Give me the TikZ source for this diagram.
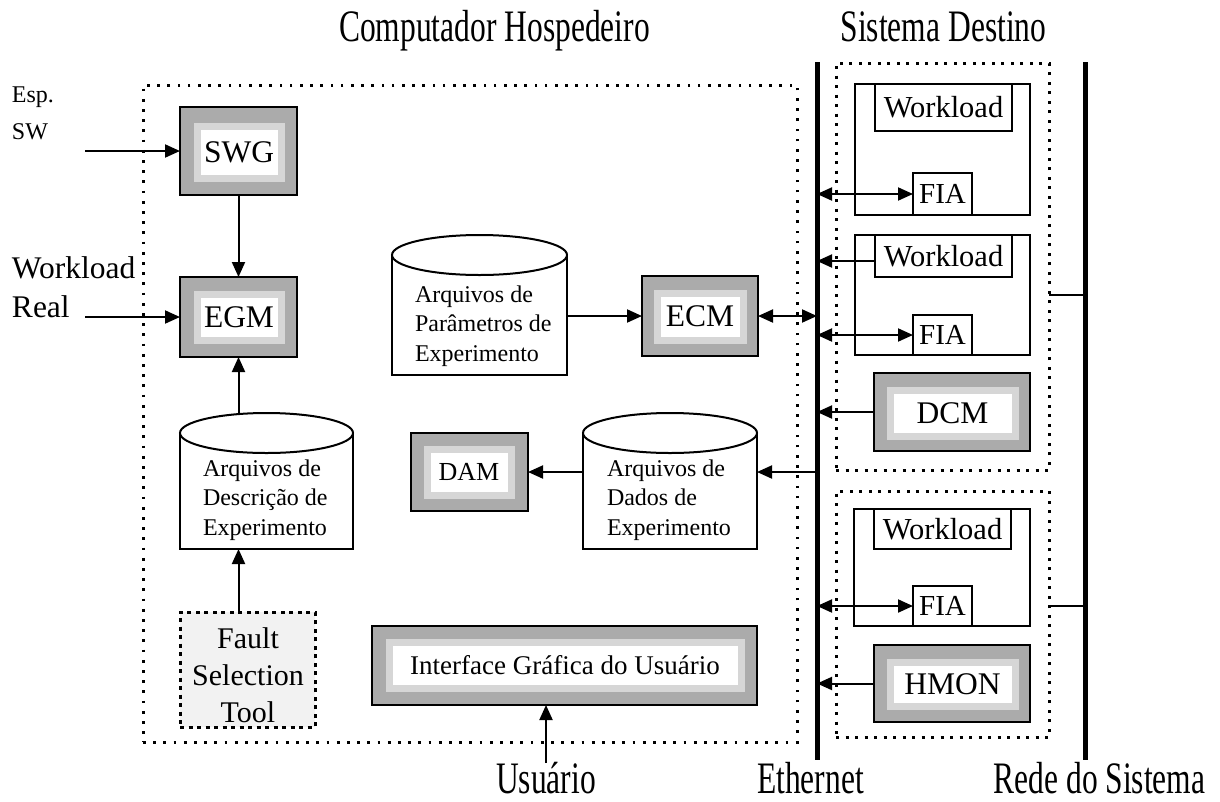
\documentclass[tikz,border=0pt]{standalone}
\usepackage{fontspec}
\setmainfont{Liberation Serif}
\usepackage{graphicx}
\usetikzlibrary{arrows.meta,calc}

\tikzset{
  every node/.style={inner sep=0pt, outer sep=0pt},
  arr/.style={line width=2pt, -{Triangle[length=15pt,width=13pt]}},
  dbl/.style={line width=2pt, {Triangle[length=15pt,width=13pt]}-{Triangle[length=15pt,width=13pt]}},
  plain/.style={line width=2pt},
  bus/.style={line width=5pt},
  hostframe/.style={draw, rectangle, line width=3pt, dash pattern=on 2.7pt off 7.5pt},
  tgtframe/.style={draw, rectangle, line width=3pt, dash pattern=on 3pt off 6.5pt},
  toolframe/.style={draw, rectangle, line width=3pt, dash pattern=on 4pt off 4.5pt, fill=black!5},
  modbox/.style={draw, rectangle, line width=2.6pt, fill=black!33},
  modcore/.style={rectangle, fill=white, draw=black!16, line width=7pt},
  wbox/.style={draw, rectangle, line width=2pt, fill=white},
  cylline/.style={line width=2pt},
  bigfont/.style={font=\fontsize{31.5}{38}\selectfont},
  midfont/.style={font=\fontsize{29}{35}\selectfont},
  wlfont/.style={font=\fontsize{30.5}{36}\selectfont},
  cylfont/.style={font=\fontsize{24}{29.5}\selectfont, align=left, anchor=west},
  headfont/.style={font=\fontsize{45}{54}\selectfont, anchor=base},
}
\newcommand{\narrow}[1]{\scalebox{0.7}[1]{#1}}

\begin{document}
\begin{tikzpicture}[x=1pt,y=-1pt]
\useasboundingbox (0,0) rectangle (1220,801);

% frames of the two computers
\node[hostframe, minimum width=654pt, minimum height=657pt] (host) at (470,413.5) {};
\node[tgtframe, minimum width=213pt, minimum height=407pt] (tgtA) at (942.5,266.5) {};
\node[tgtframe, minimum width=213pt, minimum height=246pt] (tgtB) at (942.5,614) {};

% Ethernet and system network
\coordinate (ethT) at (817,62);
\coordinate (ethB) at (817,760);
\coordinate (netT) at (1085,62);
\coordinate (netB) at (1085,760);
\draw[bus] (ethT) -- (ethB);
\draw[bus] (netT) -- (netB);

% headings
\node[headfont] (hHost) at (494.5,41) {\narrow{Computador Hospedeiro}};
\node[headfont] (hTgt) at (943.5,41) {\narrow{Sistema Destino}};
\node[headfont] (hUsr) at (546,793) {\narrow{Usuário}};
\node[headfont] (hEth) at (810.5,793) {\narrow{Ethernet}};
\node[headfont] (hNet) at (1099.5,793) {\narrow{Rede do Sistema}};

% external inputs
\node[font=\fontsize{24}{29}\selectfont, anchor=base west] (lEsp) at (12,102) {Esp.};
\node[font=\fontsize{24}{29}\selectfont, anchor=base west] (lSW) at (12,139) {SW};
\node[bigfont, anchor=base west] (lWl) at (12,278) {Workload};
\node[bigfont, anchor=base west] (lReal) at (12,317) {Real};

% shaded modules
\node[modbox, minimum width=117pt, minimum height=88pt] (swg) at (238.5,151) {};
\node[modcore, bigfont, minimum width=84pt, minimum height=52pt] (swgL) at (239,152) {SWG};
\node[modbox, minimum width=117pt, minimum height=80pt] (egm) at (238.5,317) {};
\node[modcore, bigfont, minimum width=84pt, minimum height=46pt] (egmL) at (239,317) {EGM};
\node[modbox, minimum width=116pt, minimum height=80pt] (ecm) at (700,316) {};
\node[modcore, bigfont, minimum width=86pt, minimum height=47pt] (ecmL) at (700,316.5) {ECM};
\node[modbox, minimum width=117pt, minimum height=78pt] (dam) at (469.5,472) {};
\node[modcore, font=\fontsize{26}{31}\selectfont, minimum width=84pt, minimum height=46pt] (damL) at (469,472) {DAM};
\node[modbox, minimum width=156pt, minimum height=78pt] (dcm) at (952,412) {};
\node[modcore, bigfont, minimum width=125pt, minimum height=46pt] (dcmL) at (952.5,413) {DCM};
\node[modbox, minimum width=156pt, minimum height=77pt] (hmon) at (952,683.5) {};
\node[modcore, bigfont, minimum width=125pt, minimum height=44pt] (hmonL) at (952.5,684) {HMON};
\node[modbox, minimum width=385pt, minimum height=79pt] (gui) at (564.5,665.5) {};
\node[modcore, font=\fontsize{27}{32}\selectfont, minimum width=352pt, minimum height=46pt] (guiL) at (565,665) {Interface Gráfica do Usuário};

% fault selection tool
\node[toolframe, minimum width=135pt, minimum height=115pt] (fst) at (247.5,669.5) {};
\node[font=\fontsize{30}{37}\selectfont, align=center] (fstL) at (248,675) {Fault\\Selection\\Tool};

% data files (cylinders with flat bottoms)
\node[minimum width=173pt, minimum height=136pt] (desc) at (266.5,481) {};
\node[minimum width=175pt, minimum height=140pt] (param) at (479.5,305) {};
\node[minimum width=174pt, minimum height=136pt] (dados) at (670,481) {};
\foreach \c/\rx in {desc/86.5, param/87.5, dados/87} {
  \draw[cylline] ($(\c.north west)+(0,20)$) -- (\c.south west) -- (\c.south east) -- ($(\c.north east)+(0,20)$);
  \draw[cylline] ($(\c.north)+(0,20)$) ellipse [x radius=\rx, y radius=20];
}
\node[cylfont] (descL) at (203,500) {Arquivos de\\Descrição de\\Experimento};
\node[cylfont] (paramL) at (415,326) {Arquivos de\\Parâmetros de\\Experimento};
\node[cylfont] (dadosL) at (607,500) {Arquivos de\\Dados de\\Experimento};

% target system boards
\node[wbox, minimum width=175pt, minimum height=131pt] (wboxA) at (942.5,149.5) {};
\node[wbox, wlfont, minimum width=137pt, minimum height=47pt] (wlA) at (943.5,107.5) {Workload};
\node[wbox, midfont, minimum width=59pt, minimum height=42pt] (fiaA) at (942.5,194) {FIA};
\node[wbox, minimum width=175pt, minimum height=120pt] (wboxB) at (942.5,295) {};
\node[wbox, wlfont, minimum width=137pt, minimum height=42pt] (wlB) at (943.5,256) {Workload};
\node[wbox, midfont, minimum width=59pt, minimum height=40pt] (fiaB) at (942.5,335) {FIA};
\node[wbox, minimum width=176pt, minimum height=117pt] (wboxC) at (942,567.5) {};
\node[wbox, wlfont, minimum width=137pt, minimum height=40pt] (wlC) at (942.5,529) {Workload};
\node[wbox, midfont, minimum width=59pt, minimum height=40pt] (fiaC) at (942.5,606) {FIA};

% connectors on the host side
\coordinate (espIn) at (85,151);
\coordinate (realIn) at (85,317);
\coordinate (usrIn) at (546,763);
\draw[arr] (espIn) -- (swg.west);
\draw[arr] (realIn) -- (egm.west);
\draw[arr] (swg.south) -- (egm.north);
\draw[arr] (desc.north -| egm) -- (egm.south);
\draw[arr] (fst.north -| egm) -- (desc.south -| egm);
\draw[arr] (param.east |- ecm) -- (ecm.west);
\draw[dbl] (ecm.east) -- (ecm.east -| ethT);
\draw[arr] (dados.west |- dam) -- (dam.east);
\draw[arr] (dam -| ethT) -- (dam -| dados.east);
\draw[arr] (usrIn) -- (usrIn |- gui.south);

% connectors on the target side
\draw[dbl] (fiaA.west -| ethT) -- (fiaA.west);
\draw[arr] ($(wlB.west)+(0,5)$) -- ($(wlB.west -| ethT)+(0,5)$);
\draw[dbl] (fiaB.west -| ethT) -- (fiaB.west);
\draw[arr] (dcm.west) -- (dcm.west -| ethT);
\draw[dbl] (fiaC.west -| ethT) -- (fiaC.west);
\draw[arr] (hmon.west) -- (hmon.west -| ethT);
\draw[plain] (tgtA.east |- wboxB) -- (wboxB -| netT);
\draw[plain] (tgtB.east |- fiaC) -- (fiaC -| netT);
\end{tikzpicture}
\end{document}
